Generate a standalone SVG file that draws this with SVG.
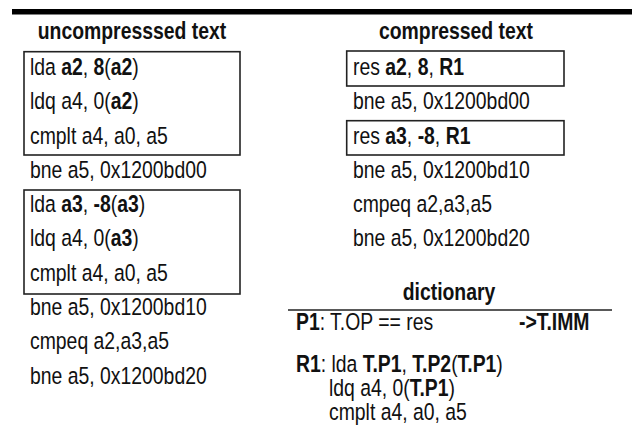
<svg xmlns="http://www.w3.org/2000/svg" width="632" height="444" viewBox="0 0 632 444">
  <style>
    text { font-family: "Liberation Sans", Arial, sans-serif; font-size: 23.5px; fill: #111; }
    .b { font-weight: bold; }
    .title { font-weight: bold; text-anchor: middle; }
    .box { fill: none; stroke: #222; stroke-width: 1.6; }
    .rule { stroke: #222; stroke-width: 1.6; }
  </style>
  <rect width="632" height="444" fill="#fff"/>

  <!-- heavy bar over the table head -->
  <path id="head-bar" d="M12 9 H632 V14.5 H12 Z" fill="#000"/>

  <!-- text runs are narrowed horizontally (x values are divided by 0.825) -->
  <g id="uncompressed">
    <rect class="box" x="24" y="51.7" width="216" height="103.3"/>
    <rect class="box" x="24" y="190" width="216" height="104"/>
    <g transform="scale(0.825 1)">
      <text class="title" x="160" y="39">uncompresssed text</text>
      <text x="36.36" y="75">lda <tspan class="b">a2</tspan>, <tspan class="b">8</tspan>(<tspan class="b">a2</tspan>)</text>
      <text x="36.36" y="109.3">ldq a4, 0(<tspan class="b">a2</tspan>)</text>
      <text x="36.36" y="143.6">cmplt a4, a0, a5</text>
      <text x="36.36" y="177.9">bne a5, 0x1200bd00</text>
      <text x="36.36" y="212.2">lda <tspan class="b">a3</tspan>, <tspan class="b">-8</tspan>(<tspan class="b">a3</tspan>)</text>
      <text x="36.36" y="246.5">ldq a4, 0(<tspan class="b">a3</tspan>)</text>
      <text x="36.36" y="280.8">cmplt a4, a0, a5</text>
      <text x="36.36" y="315.1">bne a5, 0x1200bd10</text>
      <text x="36.36" y="349.4">cmpeq a2,a3,a5</text>
      <text x="36.36" y="383.7">bne a5, 0x1200bd20</text>
    </g>
  </g>

  <g id="compressed">
    <rect class="box" x="346.7" y="51" width="217.3" height="35"/>
    <rect class="box" x="346.7" y="120.7" width="217.3" height="34.3"/>
    <g transform="scale(0.825 1)">
      <text class="title" x="552.73" y="39">compressed text</text>
      <text x="427.88" y="75">res <tspan class="b">a2</tspan>, <tspan class="b">8</tspan>, <tspan class="b">R1</tspan></text>
      <text x="427.88" y="109.3">bne a5, 0x1200bd00</text>
      <text x="427.88" y="143.6">res <tspan class="b">a3</tspan>, <tspan class="b">-8</tspan>, <tspan class="b">R1</tspan></text>
      <text x="427.88" y="177.9">bne a5, 0x1200bd10</text>
      <text x="427.88" y="212.2">cmpeq a2,a3,a5</text>
      <text x="427.88" y="246.5">bne a5, 0x1200bd20</text>
    </g>
  </g>

  <g id="dictionary">
    <line class="rule" x1="288" y1="310" x2="612" y2="310"/>
    <g transform="scale(0.825 1)">
      <text class="title" x="544.24" y="300">dictionary</text>
      <text x="358.79" y="330"><tspan class="b">P1</tspan>: T.OP == res</text>
      <text class="b" x="629.09" y="330">-&gt;T.IMM</text>
      <text x="358.79" y="372"><tspan class="b">R1</tspan>: lda <tspan class="b">T.P1</tspan>, <tspan class="b">T.P2</tspan>(<tspan class="b">T.P1</tspan>)</text>
      <text x="398.79" y="396">ldq a4, 0(<tspan class="b">T.P1</tspan>)</text>
      <text x="398.79" y="420">cmplt a4, a0, a5</text>
    </g>
  </g>
</svg>
